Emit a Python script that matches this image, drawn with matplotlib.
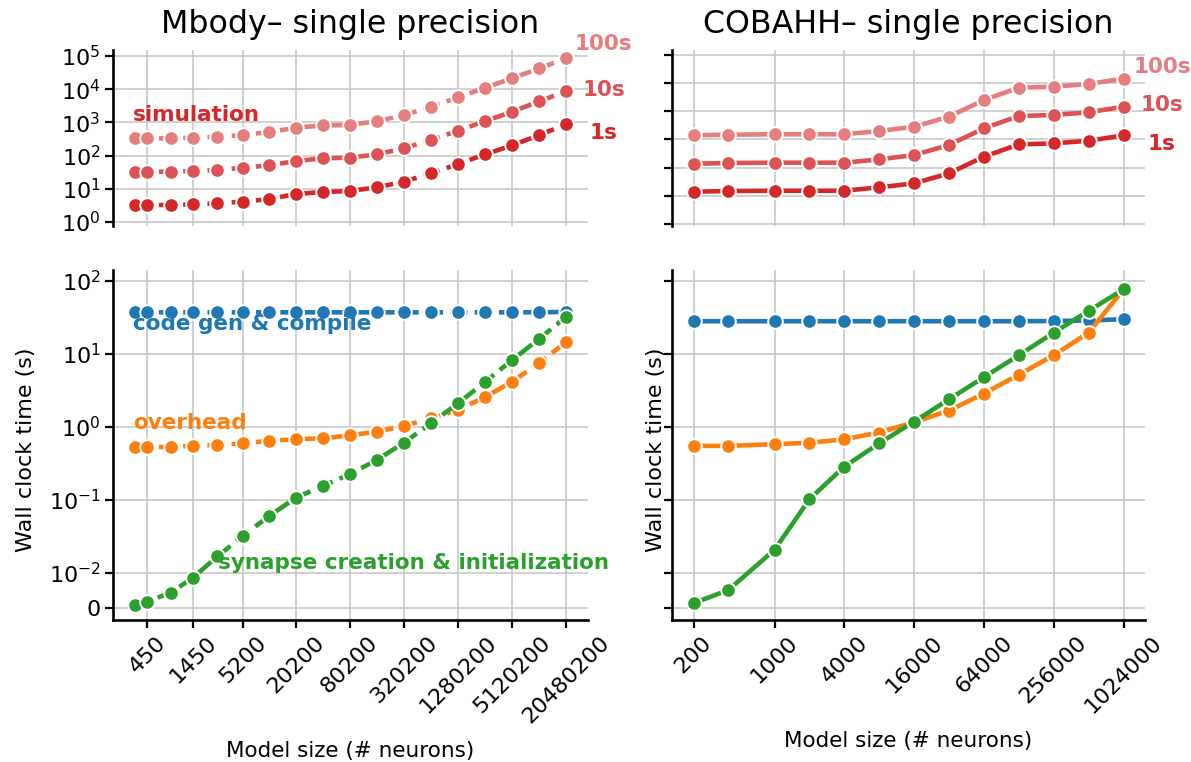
import matplotlib
matplotlib.use("Agg")
import matplotlib.pyplot as plt
from matplotlib.ticker import NullLocator

# ---------------- data ----------------
mbody_sizes = [325, 450, 825, 1450, 2700, 5200, 10200, 20200, 40200, 80200, 160200,
               320200, 640200, 1280200, 2560200, 5120200, 10240200, 20480200]
mbody_ticks = [450, 1450, 5200, 20200, 80200, 320200, 1280200, 5120200, 20480200]

mbody_sim_1s = [3.25, 3.25, 3.25, 3.4, 3.66, 4.1, 4.9, 7.0, 8.0, 8.6, 11.1, 16.4,
                29, 56, 109, 204, 418, 878]
mbody_sim_10s = [32.8, 32.8, 32.8, 34.4, 36.8, 43.3, 50.9, 68.7, 82.8, 86.7, 109, 166,
                 295, 563, 1100, 2100, 4320, 8830]
mbody_sim_100s = [332, 332, 332, 347, 372, 417, 513, 693, 815, 834, 1100, 1630,
                  2960, 5690, 11100, 21400, 42700, 85300]
mbody_codegen = [36.8, 36.8, 36.8, 36.8, 36.8, 36.8, 36.8, 36.8, 36.8, 36.8, 36.8,
                 36.8, 36.8, 36.8, 36.8, 36.8, 36.9, 37.3]
mbody_overhead = [0.532, 0.532, 0.52, 0.55, 0.56, 0.59, 0.64, 0.67, 0.69, 0.76, 0.85,
                  1.02, 1.30, 1.69, 2.55, 4.13, 7.5, 14.5]
mbody_synapse = [0.00093, 0.00185, 0.0044, 0.0086, 0.0166, 0.0318, 0.0598, 0.106,
                 0.154, 0.223, 0.35, 0.60, 1.11, 2.09, 4.1, 8.2, 16.0, 32.2]

cobahh_sizes = [200, 400, 1000, 2000, 4000, 8000, 16000, 32000, 64000, 128000,
                256000, 512000, 1024000]
cobahh_ticks = [200, 1000, 4000, 16000, 64000, 256000, 1024000]

cobahh_sim_1s = [1.40, 1.48, 1.52, 1.52, 1.52, 2.0, 2.77, 6.28, 24.4, 67, 72.8, 90, 140]
cobahh_sim_10s = [13.8, 14.6, 15.0, 15.0, 15.0, 19.7, 28.1, 63.7, 249, 682, 740, 922, 1460]
cobahh_sim_100s = [141, 148, 153, 153, 153, 200, 284, 644, 2510, 6890, 7480, 9330, 14400]
cobahh_codegen = [27.8, 27.8, 27.8, 27.8, 27.8, 27.8, 27.8, 27.8, 27.8, 27.8, 28.0, 28.5, 29.6]
cobahh_overhead = [0.544, 0.544, 0.574, 0.60, 0.67, 0.83, 1.15, 1.66, 2.83, 5.15, 9.5, 19.4, 76]
cobahh_synapse = [0.0014, 0.0051, 0.0205, 0.101, 0.283, 0.59, 1.17, 2.37, 4.75, 9.5,
                  19.4, 38.5, 76]

titles = ["Mbody\u2013 single precision", "COBAHH\u2013 single precision"]
sim_labels = ["1s", "10s", "100s"]

# ---------------- style ----------------
C_BLUE = "#1f77b4"
C_ORANGE = "#ff7f0e"
C_GREEN = "#2ca02c"
C_RED = ["#d62728", "#de5253", "#e67d7e"]
GRID = "#c4c4c4"

plt.rcParams["font.family"] = ["DejaVu Sans"]

fig = plt.figure(figsize=(11.91, 7.62), dpi=100)
W, H = 1191.0, 762.0


def axbox(x0, x1, y0, y1):
    return [x0 / W, 1 - y1 / H, (x1 - x0) / W, (y1 - y0) / H]


ax_tl = fig.add_axes(axbox(113, 588, 50, 226))
ax_bl = fig.add_axes(axbox(113, 588, 270, 620), sharex=ax_tl)
ax_tr = fig.add_axes(axbox(672, 1145, 50, 226))
ax_br = fig.add_axes(axbox(672, 1145, 270, 620), sharex=ax_tr, sharey=ax_bl)

line_kw = dict(marker="o", markersize=10.5, markeredgecolor="white",
               markeredgewidth=1.4, linewidth=3.3)


def style(ax, top):
    for s in ["top", "right"]:
        ax.spines[s].set_visible(False)
    ax.spines["left"].set_linewidth(1.9)
    ax.spines["bottom"].set_linewidth(1.9)
    ax.spines["left"].set_color("black")
    ax.spines["bottom"].set_color("black")
    ax.grid(True, color=GRID, linewidth=1.1)
    ax.set_axisbelow(True)
    ax.tick_params(axis="both", which="major", length=6, width=1.6, labelsize=16,
                   pad=3, direction="out", color="black")
    if top:
        ax.spines["bottom"].set_visible(False)
        ax.tick_params(axis="x", length=0, labelbottom=False)


# ---------------- top panels: simulation ----------------
for ax, xs, sims, ls, offs in [
    (ax_tl, mbody_sizes, [mbody_sim_1s, mbody_sim_10s, mbody_sim_100s], "--",
     [(16.6, -6.5), (11.5, 0.7), (5.8, 10)]),
    (ax_tr, cobahh_sizes, [cobahh_sim_1s, cobahh_sim_10s, cobahh_sim_100s], "-",
     [(17.3, -6.5), (12.2, 1.4), (7.2, 8.6)]),
]:
    for vals, col, lab, off in zip(sims, C_RED, sim_labels, offs):
        ax.plot(xs, vals, linestyle=ls, color=col, **line_kw)
        ax.annotate(lab, xy=(xs[-1], vals[-1]), xytext=off, textcoords="offset points",
                    ha="left", va="center", color=col, fontsize=15.5, fontweight="bold",
                    annotation_clip=False)
    ax.set_xscale("log")
    ax.set_yscale("log")
    style(ax, True)

ax_tl.set_ylim(0.758, 1.52e5)
ax_tl.set_yticks([1, 10, 100, 1e3, 1e4, 1e5])
ax_tr.set_ylim(0.085, 1.5e5)
ax_tr.set_yticks([0.1, 1, 10, 100, 1e3, 1e4, 1e5])
ax_tr.tick_params(axis="y", labelleft=False)
for ax in (ax_tl, ax_tr):
    ax.yaxis.set_minor_locator(NullLocator())

ax_tl.set_title(titles[0], fontsize=22.8, pad=12)
ax_tr.set_title(titles[1], fontsize=22.8, pad=12)

ax_tl.text(0.042, 0.63, "simulation", transform=ax_tl.transAxes, ha="left",
           va="center", color=C_RED[0], fontsize=15.5, fontweight="bold", zorder=10)

# ---------------- bottom panels ----------------
for ax, xs, cg, ov, sy, ls in [
    (ax_bl, mbody_sizes, mbody_codegen, mbody_overhead, mbody_synapse, "--"),
    (ax_br, cobahh_sizes, cobahh_codegen, cobahh_overhead, cobahh_synapse, "-"),
]:
    ax.plot(xs, cg, linestyle=ls, color=C_BLUE, **line_kw)
    ax.plot(xs, ov, linestyle=ls, color=C_ORANGE, **line_kw)
    ax.plot(xs, sy, linestyle=ls, color=C_GREEN, **line_kw)
    ax.set_xscale("log")
    ax.set_yscale("symlog", linthresh=0.01, linscale=0.44)
    style(ax, False)
    ax.set_ylabel("Wall clock time (s)", fontsize=16)
    ax.set_xlabel("Model size (# neurons)", fontsize=15.5, labelpad=10)

ax_bl.yaxis.set_label_coords(-0.162, 0.486)
ax_br.yaxis.set_label_coords(-0.0127, 0.486)

ax_bl.set_ylim(-0.0033, 140)
ax_bl.set_yticks([0, 0.01, 0.1, 1, 10, 100])
ax_bl.yaxis.set_minor_locator(NullLocator())
ax_br.tick_params(axis="y", labelleft=False)

ax_bl.set_xticks(mbody_ticks)
ax_bl.set_xticklabels([str(t) for t in mbody_ticks], rotation=45)
ax_br.set_xticks(cobahh_ticks)
ax_br.set_xticklabels([str(t) for t in cobahh_ticks], rotation=45)
for ax in (ax_tl, ax_bl, ax_tr, ax_br):
    ax.xaxis.set_minor_locator(NullLocator())
for ax in (ax_tl, ax_tr):
    ax.tick_params(axis="x", labelbottom=False)

ax_bl.text(0.042, 0.846, "code gen & compile", transform=ax_bl.transAxes, ha="left",
           va="center", color=C_BLUE, fontsize=15.5, fontweight="bold", zorder=10)
ax_bl.text(0.042, 0.563, "overhead", transform=ax_bl.transAxes, ha="left",
           va="center", color=C_ORANGE, fontsize=15.5, fontweight="bold", zorder=10)
ax_bl.text(0.221, 0.163, "synapse creation & initialization", transform=ax_bl.transAxes,
           ha="left", va="center", color=C_GREEN, fontsize=15.5, fontweight="bold", zorder=10)

fig.savefig("out.png", dpi=100)
